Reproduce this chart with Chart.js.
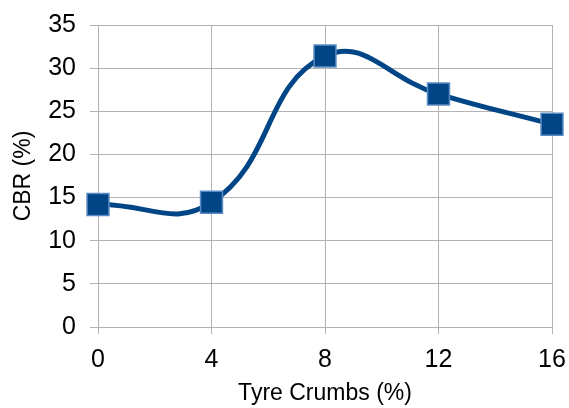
<!DOCTYPE html>
<html>
<head>
<meta charset="utf-8">
<script src="https://cdn.jsdelivr.net/npm/chart.js@4/dist/chart.umd.min.js"></script>
<style>
  html, body { margin: 0; padding: 0; background: #ffffff; }
  #wrap { width: 569px; height: 408px; }
</style>
</head>
<body>
<div id="wrap"><canvas id="c" width="569" height="408"></canvas></div>
<script>
// Tyre crumb content (%) against CBR (%)
const crumbs = [0, 4, 8, 12, 16];
const cbr = [14.2, 14.45, 31.4, 27.0, 23.5];
const xTicks = [0, 4, 8, 12, 16];
const yTicks = [0, 5, 10, 15, 20, 25, 30, 35];

const gridGray = '#b3b3b3';
const font = { family: '"Liberation Sans", Arial, sans-serif', size: 25 };

new Chart(document.getElementById('c'), {
  type: 'scatter',
  data: {
    datasets: [{
      data: crumbs.map((x, i) => ({ x: x, y: cbr[i] })),
      showLine: true,
      clip: false,
      borderColor: '#004586',
      borderWidth: 5,
      tension: 0.45,
      pointStyle: 'rect',
      pointRadius: 15.5,
      pointHoverRadius: 15.5,
      pointBackgroundColor: '#004586',
      pointBorderColor: '#5b8bc4',
      pointBorderWidth: 1.5
    }]
  },
  options: {
    responsive: false,
    animation: false,
    devicePixelRatio: 1,
    layout: { padding: { left: 10, right: 16, top: 25, bottom: 1 } },
    plugins: { legend: { display: false }, tooltip: { enabled: false } },
    scales: {
      x: {
        type: 'linear',
        min: 0, max: 16,
        afterBuildTicks: s => { s.ticks = xTicks.map(v => ({ value: v })); },
        afterFit: s => { s.height = 408 - 327 - 1; s.paddingLeft = 0; s.paddingRight = 0; },
        grid: { color: gridGray, lineWidth: 1, tickLength: 7, drawTicks: true },
        border: { color: gridGray, width: 1 },
        ticks: { color: '#000', font: font, padding: 11 },
        title: { display: true, text: 'Tyre Crumbs (%)', color: '#000',
                 font: { family: font.family, size: 23 }, padding: { top: 4, bottom: 0 } }
      },
      y: {
        min: 0, max: 35,
        afterBuildTicks: s => { s.ticks = yTicks.map(v => ({ value: v })); },
        afterFit: s => { s.width = 98 - 10; s.paddingTop = 0; s.paddingBottom = 0; },
        grid: { color: gridGray, lineWidth: 1, tickLength: 8, drawTicks: true },
        border: { color: gridGray, width: 1 },
        ticks: { color: '#000', font: font, padding: 14 },
        title: { display: true, text: 'CBR (%)', color: '#000',
                 font: { family: font.family, size: 23 }, padding: { top: 0, bottom: 4 } }
      }
    }
  }
});
</script>
</body>
</html>
